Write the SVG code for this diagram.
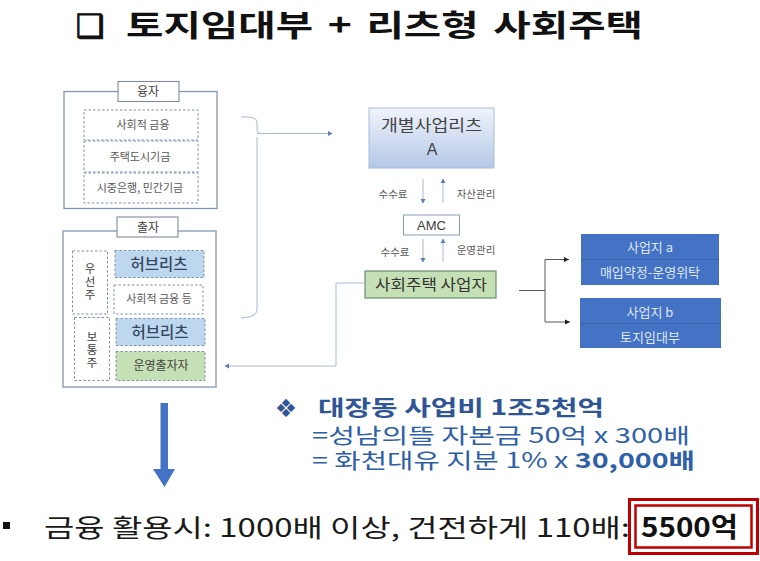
<svg xmlns="http://www.w3.org/2000/svg" width="760" height="561" viewBox="0 0 760 561">
<defs>
<style>
text{font-family:"Noto Sans CJK KR","Liberation Sans",sans-serif;text-anchor:middle;fill:#404040}
.s{font-size:11px;fill:#595959}
.f{font-size:10.5px;fill:#595959}
.m{font-size:12px;fill:#404040}
.v{font-size:11.5px;fill:#404040;writing-mode:vertical-rl;text-orientation:upright;letter-spacing:1.5px}
.w{font-size:13px;fill:#dfe7f5}
.h{font-size:15.5px;font-weight:500;fill:#33475f}
.frame{fill:#fff;stroke:#8497b0;stroke-width:1.3}
.label{fill:#fff;stroke:#7f8b9c;stroke-width:1.1}
.dash{fill:#fff;stroke:#7f93ad;stroke-width:1;stroke-dasharray:2.5 2}
.blue{fill:#bdd7ee;stroke:#7f93ad;stroke-width:1;stroke-dasharray:2.5 2}
.green{fill:#c5e0b4;stroke:#7f93ad;stroke-width:1;stroke-dasharray:2.5 2}
.c{fill:none;stroke:#a9bad3;stroke-width:1}
.k{fill:none;stroke:#595959;stroke-width:1}
.site{fill:#4472c4}
.b{font-weight:700;fill:#2f5597}
.t{text-anchor:start;font-size:21px;fill:#2f5fa8}
</style>
<linearGradient id="g" x1="0" y1="0" x2="0" y2="1"><stop offset="0" stop-color="#f0f4fb"/><stop offset="1" stop-color="#b4c7e7"/></linearGradient>
<marker id="ab" markerWidth="6" markerHeight="6" refX="4" refY="3" orient="auto"><path d="M0 .5L4.5 3L0 5.5Z" fill="#5b7db8"/></marker>
<marker id="ak" markerWidth="7" markerHeight="6" refX="5" refY="3" orient="auto"><path d="M0 .5L5 3L0 5.5Z" fill="#222"/></marker>
</defs>

<g id="title"><text x="90" y="37" stroke="#111" stroke-width="1" style="font-family:'DejaVu Sans',sans-serif;font-size:32px;font-weight:700;fill:#111">❑</text><text x="126" y="36" textLength="517" lengthAdjust="spacingAndGlyphs" style="font-size:30px;font-weight:700;fill:#111;text-anchor:start;word-spacing:4px">토지임대부 + 리츠형 사회주택</text></g>

<g id="loan">
<rect class="frame" x="64" y="91.500" width="153" height="117"/>
<rect class="label" x="118" y="81.500" width="61" height="20"/>
<text class="m" x="148" y="96">융자</text>
<rect class="dash" x="84" y="110" width="114" height="30"/>
<text class="s" x="143" y="129">사회적 금융</text>
<rect class="dash" x="84" y="141" width="114" height="31"/>
<text class="s" x="140" y="161">주택도시기금</text>
<rect class="dash" x="84" y="173" width="114" height="30"/>
<text class="s" x="140" y="192">시중은행, 민간기금</text>
</g>

<g id="equity">
<rect class="frame" x="63" y="231" width="153" height="156"/>
<rect class="label" x="117" y="217" width="61" height="20"/>
<text class="m" x="148" y="232">출자</text>
<rect class="dash" x="72.500" y="251" width="35" height="63"/>
<text class="v" x="90" y="282">우선주</text>
<rect class="blue" x="115" y="250.500" width="89" height="27"/>
<text class="h" x="159" y="270">허브리츠</text>
<rect class="dash" x="114" y="285" width="89" height="29"/>
<text class="s" x="159" y="303">사회적 금융 등</text>
<rect class="dash" x="74.500" y="317.500" width="35" height="63"/>
<text class="v" x="92" y="350">보통주</text>
<rect class="blue" x="116" y="318.500" width="89" height="27"/>
<text class="h" x="160" y="338">허브리츠</text>
<rect class="green" x="116" y="351.500" width="89" height="29"/>
<text class="m" x="161" y="370">운영출자자</text>
</g>

<g id="reit-a">
<rect x="369" y="108" width="125" height="60" fill="url(#g)" stroke="#a9bcd9"/>
<text x="381" y="131" textLength="101" lengthAdjust="spacingAndGlyphs" style="font-size:16px;fill:#444;text-anchor:start">개별사업리츠</text>
<text x="432" y="155" style="font-size:16px;fill:#444;font-family:'Liberation Sans',sans-serif">A</text>
</g>
<g id="amc"><rect x="403.500" y="215" width="56" height="20" fill="#fff" stroke="#8a9bb3"/><text x="431.500" y="230" style="font-size:13px;fill:#404040;font-family:'Liberation Sans',sans-serif">AMC</text></g>
<g id="operator"><rect x="365" y="271" width="131" height="27" fill="#c5e0b4" stroke="#6f8a78" stroke-width="1.2"/><text x="375" y="290" textLength="112" lengthAdjust="spacingAndGlyphs" style="font-size:14.500px;fill:#333;text-anchor:start">사회주택 사업자</text></g>
<g id="fee-labels">
<text class="f" x="393" y="198">수수료</text><text class="f" x="476" y="198">자산관리</text>
<text class="f" x="395" y="256">수수료</text><text class="f" x="476" y="254">운영관리</text>
</g>

<g id="site-a"><rect class="site" x="581" y="234" width="138" height="25"/><rect class="site" x="581" y="260" width="138" height="25"/><path d="M581 259.500H719" stroke="#3a62a8"/><text class="w" x="650" y="252">사업지 a</text><text class="w" x="650" y="277">매입약정-운영위탁</text></g>
<g id="site-b"><rect class="site" x="580" y="298" width="141" height="25"/><rect class="site" x="580" y="323" width="141" height="25"/><path d="M580 323.500H721" stroke="#3a62a8"/><text class="w" x="650" y="317">사업지 b</text><text class="w" x="650" y="342">토지임대부</text></g>

<g id="connectors">
<path class="c" d="M241 117Q257 116 257 122V130Q257 134 262 133.500M257 137V310Q257 317 241 318"/>
<path class="c" marker-end="url(#ab)" d="M257 134Q259 133 264 133.500H332"/>
<path class="c" marker-end="url(#ab)" d="M423 179V203"/>
<path class="c" marker-end="url(#ab)" d="M443 203V179"/>
<path class="c" marker-end="url(#ab)" d="M423 239V262"/>
<path class="c" marker-end="url(#ab)" d="M443 262V239"/>
<path class="c" marker-end="url(#ab)" d="M365 283H336V366H225"/>
<path class="k" stroke-width="1.2" d="M519 290.500H545"/>
<path class="k" marker-end="url(#ak)" d="M545 290.500V259.500H569"/>
<path class="k" marker-end="url(#ak)" d="M545 290.500V322H570"/>
<path d="M160.500 403H168V469H175L164.500 487L153 469H160.500Z" fill="#4472c4"/>
</g>

<g id="notes">
<text x="286" y="417" style="font-family:'DejaVu Sans',sans-serif;font-size:25px;fill:#2f5597">❖</text>
<text class="t"><tspan class="b" x="318" y="415" textLength="286" lengthAdjust="spacingAndGlyphs">대장동 사업비 1조5천억</tspan><tspan x="312" y="443" textLength="378" lengthAdjust="spacingAndGlyphs">=성남의뜰 자본금 50억 x 300배</tspan><tspan x="312" y="468" textLength="383" lengthAdjust="spacingAndGlyphs">= 화천대유 지분 1% x <tspan font-weight="700">30,000배</tspan></tspan></text>
</g>

<g id="bottom">
<rect x="3" y="522" width="7" height="7" fill="#111"/>
<text x="44" y="537" textLength="586" lengthAdjust="spacingAndGlyphs" style="text-anchor:start;font-size:25px;fill:#1a1a1a">금융 활용시: 1000배 이상, 건전하게 110배:</text>
<rect x="629.500" y="499.500" width="128" height="54" fill="#fff" stroke="#c00000" stroke-width="3"/>
<rect x="635.500" y="505.500" width="116" height="42" fill="none" stroke="#c00000" stroke-width="2.500"/>
<text x="641" y="537" textLength="97" lengthAdjust="spacingAndGlyphs" style="font-size:27px;font-weight:700;fill:#111;text-anchor:start">5500억</text>
</g>
</svg>
